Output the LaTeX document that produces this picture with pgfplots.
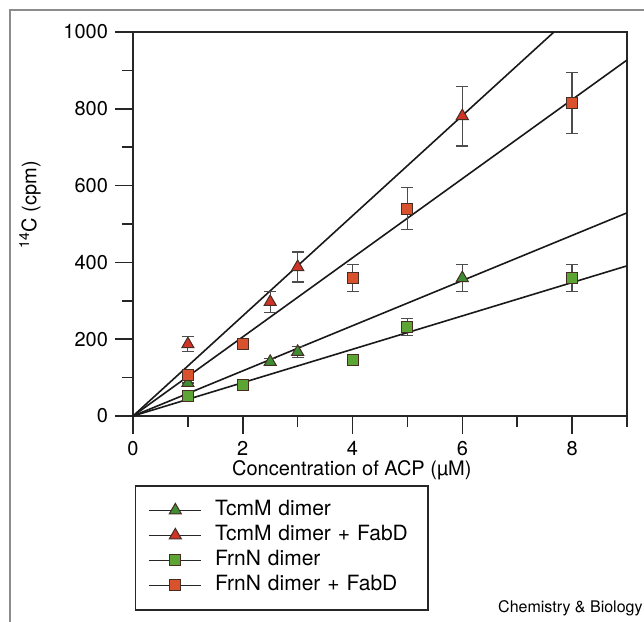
\documentclass[border=0pt]{standalone}
\usepackage{fontspec}
\setmainfont{TeX Gyre Heros}
\usepackage{pgfplots}
\pgfplotsset{compat=1.18}

\definecolor{tcmg}{RGB}{62,140,52}
\definecolor{tcmr}{RGB}{208,52,38}
\definecolor{frng}{RGB}{92,165,52}
\definecolor{frnr}{RGB}{216,82,46}
\definecolor{edge}{RGB}{70,45,35}

\begin{document}
\fontsize{10}{12}\selectfont
\begin{tikzpicture}
\path[use as bounding box] (-66.5pt,-103pt) rectangle (255.5pt,208pt);
% outer frame of the figure panel
\draw[black!45, line width=0.8pt] (-61.5pt,-110pt) -- (-61.5pt,203pt) -- (260pt,203pt);
\begin{axis}[
  at={(0pt,0pt)}, anchor=south west,
  scale only axis, width=247pt, height=192pt,
  xmin=0, xmax=9, ymin=0, ymax=1000,
  xtick={0,2,4,6,8}, minor xtick={1,3,5,7,9},
  ytick={0,200,...,1000}, minor ytick={100,300,...,900},
  tick pos=left, tick align=outside,
  major tick length=9pt, minor tick length=5.5pt,
  axis line style={line width=0.75pt, black!85},
  tick style={line width=0.75pt, black!85},
  ticklabel style={font=\fontsize{10}{12}\selectfont},
  /pgf/number format/assume math mode=true,
  /pgf/number format/1000 sep={},
  xlabel={Concentration of ACP (µM)},
  ylabel={\textsuperscript{14}C (cpm)},
  xlabel style={at={(axis description cs:0.443,-0.14)}, anchor=center},
  ylabel style={at={(axis description cs:-0.2085,0.55)}, anchor=center},
  legend style={at={(axis description cs:0.004,-0.18)}, anchor=north west,
    draw=black!85, line width=0.75pt, inner xsep=6.5pt, inner ysep=6pt,
    row sep=0pt, font=\fontsize{10.5}{12.5}\selectfont,
    nodes={text width=98pt, align=left, text height=7.5pt, text depth=2.5pt,
      inner ysep=1.25pt}},
  legend cell align=left,
  legend image code/.code={
    \draw[black!85, solid, line width=0.6pt] (0pt,0pt) -- (26pt,0pt);
    \draw[mark repeat=2, mark phase=2] plot coordinates {(0pt,0pt) (13pt,0pt) (26pt,0pt)};
    \path (30.5pt,0pt);
  },
  error bars/error bar style={line width=0.6pt, black!70},
  error bars/error mark options={rotate=90, mark size=3pt, line width=0.6pt, black!70},
]
% fitted lines through the origin
\addplot[forget plot, black!90, line width=0.8pt] coordinates {(0,0) (7.67,1000)};
\addplot[forget plot, black!90, line width=0.8pt] coordinates {(0,0) (9,927)};
\addplot[forget plot, black!90, line width=0.8pt] coordinates {(0,0) (9,529)};
\addplot[forget plot, black!90, line width=0.8pt] coordinates {(0,0) (9,391)};

% TcmM dimer
\addplot[only marks, mark=triangle*, mark size=3.5pt,
  mark options={draw=edge, fill=tcmg, line width=0.5pt},
  error bars/.cd, y dir=both, y explicit] coordinates {
  (1,86) +- (0,0)
  (2.5,141) +- (0,8)
  (3,167) +- (0,15)
  (6,359) +- (0,35)
};
\addlegendentry{TcmM dimer}
% TcmM dimer + FabD
\addplot[only marks, mark=triangle*, mark size=3.5pt,
  mark options={draw=edge, fill=tcmr, line width=0.5pt},
  error bars/.cd, y dir=both, y explicit] coordinates {
  (1,187) +- (0,19)
  (2.5,297) +- (0,28)
  (3,388) +- (0,39)
  (6,781) +- (0,78)
};
\addlegendentry{TcmM dimer + FabD}
% FrnN dimer
\addplot[only marks, mark=square*, mark size=2.75pt,
  mark options={draw=edge, fill=frng, line width=0.5pt},
  error bars/.cd, y dir=both, y explicit] coordinates {
  (1,52) +- (0,0)
  (2,81) +- (0,0)
  (4,146) +- (0,0)
  (5,232) +- (0,22)
  (8,359) +- (0,35)
};
\addlegendentry{FrnN dimer}
% FrnN dimer + FabD
\addplot[only marks, mark=square*, mark size=2.75pt,
  mark options={draw=edge, fill=frnr, line width=0.5pt},
  error bars/.cd, y dir=both, y explicit] coordinates {
  (1,107) +- (0,8)
  (2,188) +- (0,10)
  (4,359) +- (0,35)
  (5,540) +- (0,55)
  (8,815) +- (0,80)
};
\addlegendentry{FrnN dimer + FabD}
\end{axis}
\node[anchor=east, inner sep=0pt, font=\fontsize{8}{9.6}\selectfont] at (255pt,-96pt) {Chemistry \& Biology};
\end{tikzpicture}
\end{document}
